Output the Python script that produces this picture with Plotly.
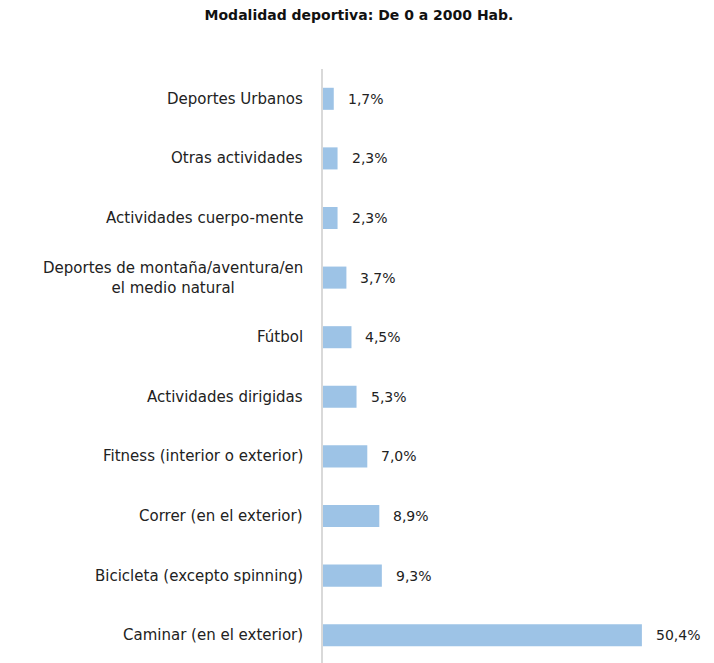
import plotly.graph_objects as go

categories = [
    "Deportes Urbanos",
    "Otras actividades",
    "Actividades cuerpo-mente",
    "Deportes de montaña/aventura/en<br>el medio natural",
    "Fútbol",
    "Actividades dirigidas",
    "Fitness (interior o exterior)",
    "Correr (en el exterior)",
    "Bicicleta (excepto spinning)",
    "Caminar (en el exterior)",
]
values = [1.7, 2.3, 2.3, 3.7, 4.5, 5.3, 7.0, 8.9, 9.3, 50.4]
labels = [f"{v:.1f}%".replace(".", ",") for v in values]

FONT = "DejaVu Sans"
fig = go.Figure()
fig.add_trace(go.Bar(
    x=values, y=categories, orientation="h",
    marker=dict(color="#9DC3E6", line=dict(width=0)),
    width=0.37, hoverinfo="skip",
))
for v, c, t in zip(values, categories, labels):
    fig.add_annotation(x=v, y=c, text=t, showarrow=False, xanchor="left",
                       xshift=12, font=dict(family=FONT, size=14, color="#222"))
    fig.add_annotation(x=0, y=c, text=c, showarrow=False, xanchor="right",
                       align="center", xshift=-18,
                       font=dict(family=FONT, size=15, color="#222"))

fig.update_layout(
    width=714, height=663,
    margin=dict(l=315, r=20, t=61, b=6, autoexpand=False),
    paper_bgcolor="white", plot_bgcolor="white",
    showlegend=False,
    title=dict(text="<b>Modalidad deportiva: De 0 a 2000 Hab.</b>", x=0.4916, xanchor="center",
               y=0.997, yanchor="top", font=dict(family=FONT, size=14, color="#111")),
    font=dict(family=FONT, size=15, color="#222"),
)
fig.update_xaxes(range=[0, 59.9], visible=False, fixedrange=True)
fig.update_yaxes(autorange="reversed", showline=True, linecolor="#d9d9d9", linewidth=2,
                 ticks="", showticklabels=False, showgrid=False, zeroline=False,
                 automargin=False)

fig.write_html("out.html")
